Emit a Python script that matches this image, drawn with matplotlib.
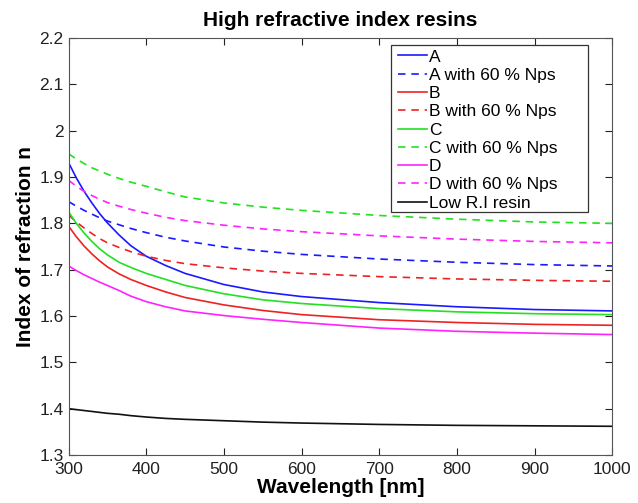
import numpy as np
import matplotlib.pyplot as plt
from matplotlib.patches import Rectangle

plt.rcParams['font.family'] = ['Liberation Sans', 'DejaVu Sans']

# wavelength grid (nm) and refractive index for each resin
wl = [300, 310, 320, 330, 340, 350, 365, 380, 400, 425, 450, 500, 550, 600, 700, 800, 900, 1000]

n_A   = [1.931, 1.898, 1.869, 1.844, 1.821, 1.801, 1.775, 1.752, 1.729, 1.709, 1.692, 1.668,
         1.652, 1.642, 1.629, 1.620, 1.614, 1.611]
n_A60 = [1.847, 1.837, 1.828, 1.820, 1.812, 1.805, 1.797, 1.789, 1.780, 1.770, 1.762, 1.749,
         1.740, 1.733, 1.723, 1.716, 1.711, 1.708]
n_B   = [1.794, 1.771, 1.751, 1.734, 1.719, 1.706, 1.691, 1.679, 1.666, 1.652, 1.640, 1.624,
         1.612, 1.603, 1.592, 1.586, 1.582, 1.580]
n_B60 = [1.818, 1.803, 1.790, 1.778, 1.767, 1.758, 1.748, 1.739, 1.729, 1.720, 1.713, 1.704,
         1.697, 1.692, 1.685, 1.680, 1.677, 1.675]
n_C   = [1.825, 1.800, 1.779, 1.761, 1.745, 1.732, 1.716, 1.705, 1.692, 1.679, 1.666, 1.648,
         1.635, 1.627, 1.616, 1.609, 1.605, 1.603]
n_C60 = [1.950, 1.939, 1.929, 1.920, 1.913, 1.906, 1.897, 1.889, 1.880, 1.868, 1.857, 1.844,
         1.835, 1.828, 1.817, 1.809, 1.803, 1.800]
n_D   = [1.708, 1.698, 1.689, 1.681, 1.673, 1.666, 1.655, 1.643, 1.631, 1.620, 1.611, 1.601,
         1.593, 1.586, 1.574, 1.567, 1.563, 1.560]
n_D60 = [1.893, 1.880, 1.869, 1.860, 1.852, 1.845, 1.837, 1.830, 1.822, 1.813, 1.806, 1.796,
         1.788, 1.782, 1.773, 1.766, 1.761, 1.758]
n_low = [1.400, 1.398, 1.396, 1.394, 1.392, 1.390, 1.388, 1.385, 1.382, 1.379, 1.377, 1.374,
         1.371, 1.369, 1.366, 1.364, 1.363, 1.362]

series = [
    (n_A,   'b', '-',  'A'),
    (n_A60, 'b', '--', 'A with 60 % Nps'),
    (n_B,   'r', '-',  'B'),
    (n_B60, 'r', '--', 'B with 60 % Nps'),
    (n_C,   'g', '-',  'C'),
    (n_C60, 'g', '--', 'C with 60 % Nps'),
    (n_D,   'm', '-',  'D'),
    (n_D60, 'm', '--', 'D with 60 % Nps'),
    (n_low, 'k', '-',  'Low R.I resin'),
]
colors = {'b': '#1a1aff', 'r': '#ee2222', 'g': '#22e022', 'm': '#ff22ff', 'k': '#111111'}

fig = plt.figure(figsize=(6.38, 5.03), dpi=100)
ax = fig.add_axes([0.1075, 0.0954, 0.852, 0.829])

for n, c, ls, lab in series:
    if ls == '--':
        ax.plot(wl, n, color=colors[c], linewidth=1.2, label=lab, dashes=(4.5, 3.5))
    else:
        ax.plot(wl, n, color=colors[c], linewidth=1.2, label=lab)

ax.set_xlim(300, 1000)
ax.set_ylim(1.3, 2.2)
ax.set_xticks(np.arange(300, 1001, 100))
ax.set_yticks(np.round(np.arange(1.3, 2.21, 0.1), 1))
ax.set_yticklabels(['1.3', '1.4', '1.5', '1.6', '1.7', '1.8', '1.9', '2', '2.1', '2.2'])
ax.tick_params(direction='in', top=True, right=True, labelsize=12.5, length=5, colors='#222222')
ax.tick_params(axis='x', pad=5)
for s in ax.spines.values():
    s.set_color('#555555')

ax.set_xlabel('Wavelength [nm]', fontsize=15, fontweight='bold', labelpad=1)
ax.set_ylabel('Index of refraction n', fontsize=15, fontweight='bold', labelpad=3)
ax.set_title('High refractive index resins', fontsize=15, fontweight='bold', pad=9)

# legend box is wider than its entries, so draw the frame separately
ax.add_patch(Rectangle((0.593, 0.583), 0.363, 0.400, transform=ax.transAxes,
                       facecolor='white', edgecolor='#333333', linewidth=0.9, zorder=4))
leg = ax.legend(loc='upper left', fontsize=12.5, handlelength=1.7, handletextpad=0.1,
                labelspacing=0.18, borderpad=0.1, frameon=False,
                borderaxespad=0, bbox_to_anchor=(0.6025, 0.977))
leg.set_zorder(5)

fig.savefig('out.png', dpi=100)
